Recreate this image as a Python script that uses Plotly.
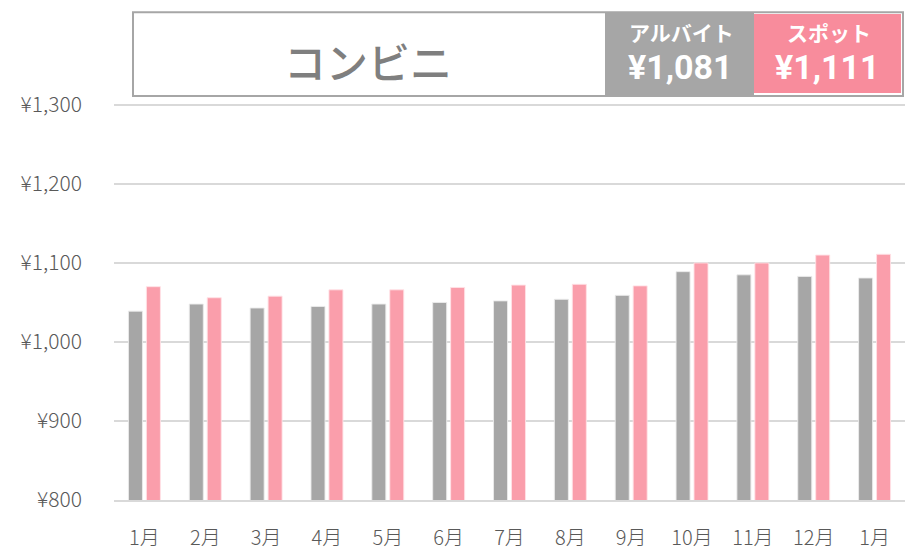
import plotly.graph_objects as go

months = ['1月', '2月', '3月', '4月', '5月', '6月', '7月', '8月', '9月', '10月', '11月', '12月', '1月']
arubaito = [1039, 1048, 1043, 1045, 1048, 1050, 1052, 1054, 1059, 1089, 1085, 1083, 1081]
spot = [1070, 1056, 1058, 1066, 1066, 1069, 1072, 1073, 1071, 1100, 1100, 1110, 1111]
y_ticks = [800, 900, 1000, 1100, 1200, 1300]
y_tick_labels = ['¥800', '¥900', '¥1,000', '¥1,100', '¥1,200', '¥1,300']
title_text = 'コンビニ'
label_a, value_a = 'アルバイト', '¥1,081'
label_s, value_s = 'スポット', '¥1,111'

W, H = 905, 551
L, R, T, B = 114, 0, 102, 46
pw, ph = W - L - R, H - T - B

def px(x):
    return (x - L) / pw

def py(y):
    return (H - B - y) / ph

xs = list(range(len(months)))

fig = go.Figure()
fig.add_trace(go.Bar(x=xs, y=arubaito, name='アルバイト',
                     marker=dict(color='#a6a6a6', line=dict(color='rgba(235,235,235,0.9)', width=1))))
fig.add_trace(go.Bar(x=xs, y=spot, name='スポット',
                     marker=dict(color='#fa9eab', line=dict(color='rgba(255,225,230,0.9)', width=1))))

shapes = [
    dict(type='rect', xref='paper', yref='paper', x0=px(133), x1=px(903), y0=py(96), y1=py(11),
         line=dict(color='#a6a6a6', width=2), fillcolor='white', layer='above'),
    dict(type='rect', xref='paper', yref='paper', x0=px(605), x1=px(754), y0=py(95), y1=py(12),
         line=dict(width=0), fillcolor='#a6a6a6', layer='above'),
    dict(type='rect', xref='paper', yref='paper', x0=px(754), x1=px(901), y0=py(93), y1=py(13),
         line=dict(width=0), fillcolor='#f88c9c', layer='above'),
]

cjk = 'Noto Sans CJK JP, Noto Sans, sans-serif'
narrow = 'Roboto, DejaVu Sans Condensed, sans-serif'
annotations = [
    dict(text=title_text, x=px(368), y=py(60), xref='paper', yref='paper', showarrow=False,
         font=dict(family=cjk, size=42, color='#7f7f7f', weight=500), xanchor='center', yanchor='middle'),
    dict(text='<b>' + label_a + '</b>', x=px(681), y=py(31), xref='paper', yref='paper', showarrow=False,
         font=dict(family=cjk, size=21, color='white'), xanchor='center', yanchor='middle'),
    dict(text='<b>' + value_a + '</b>', x=px(680), y=py(67), xref='paper', yref='paper', showarrow=False,
         font=dict(family=narrow, size=34, color='white'), xanchor='center', yanchor='middle'),
    dict(text='<b>' + label_s + '</b>', x=px(829), y=py(31), xref='paper', yref='paper', showarrow=False,
         font=dict(family=cjk, size=21, color='white'), xanchor='center', yanchor='middle'),
    dict(text='<b>' + value_s + '</b>', x=px(827), y=py(67), xref='paper', yref='paper', showarrow=False,
         font=dict(family=narrow, size=34, color='white'), xanchor='center', yanchor='middle'),
]

fig.update_layout(
    width=W, height=H,
    margin=dict(l=L, r=R, t=T, b=B, pad=0),
    paper_bgcolor='white', plot_bgcolor='white',
    barmode='group', bargap=0.41, bargroupgap=0.22,
    showlegend=False,
    shapes=shapes, annotations=annotations,
    font=dict(family=cjk, color='#595959'),
)
fig.update_xaxes(range=[-0.5, len(months) - 0.5], tickvals=xs, ticktext=months,
                 showgrid=False, showline=True, linecolor='#d9d9d9', linewidth=2,
                 ticks='', tickfont=dict(size=20, color='#595959', family=cjk, weight=300),
                 ticklabelstandoff=19)
fig.update_yaxes(range=[800, 1303.75], tickvals=y_ticks, ticktext=y_tick_labels,
                 showgrid=True, gridcolor='#d9d9d9', gridwidth=2, zeroline=False, showline=False,
                 ticks='', tickfont=dict(size=21, color='#595959', family=cjk, weight=300),
                 ticklabelstandoff=31)

fig.write_html('out.html', config={'displayModeBar': False},
               post_script="document.body.style.margin='0';document.body.style.overflow='hidden';")
